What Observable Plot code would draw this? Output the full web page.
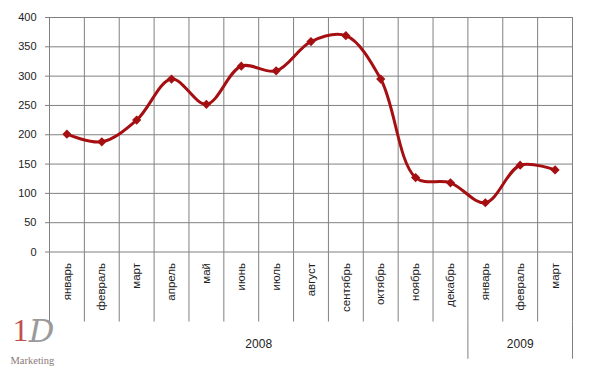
<!DOCTYPE html>
<html><head><meta charset="utf-8">
<script src="https://cdn.jsdelivr.net/npm/d3@7"></script>
<script src="https://cdn.jsdelivr.net/npm/@observablehq/plot@0.6"></script>
<style>body{margin:0;background:#fff;} svg{display:block;}</style>
</head><body><div id="chart"></div>
<script>
const months = ["январь","февраль","март","апрель","май","июнь","июль","август","сентябрь","октябрь","ноябрь","декабрь","январь","февраль","март"];
const values = [201,188,225,295,252,317,309,359,369,295,127,118,84,148,140];
const years = ["2008","2009"];
const yearSpans = [[0,11],[12,14]];
const yTicks = [0,50,100,150,200,250,300,350,400];

const data = months.map((m,i)=>({i, month:m, value:values[i]}));
const bounds = d3.range(months.length+1).map(k=>k-0.5);
const yearBounds = [yearSpans[0][0]-0.5, ...yearSpans.map(s=>s[1]+0.5)];
const yearData = years.map((y,k)=>({year:y, mid:(yearSpans[k][0]+yearSpans[k][1])/2}));

const grid = "#808080";
const red = "#A50F12";

const chart = Plot.plot({
  width: 589, height: 368,
  marginLeft: 49, marginRight: 17, marginTop: 17, marginBottom: 116.5,
  style: {fontFamily: "Liberation Sans, Arial, sans-serif", fontSize: "11px", color: "#222", background: "#fff"},
  x: {type: "linear", domain: [-0.5, months.length-0.5], axis: null},
  y: {domain: [0,400], axis: null},
  marks: [
    Plot.ruleY(yTicks, {x1: -0.5, x2: months.length-0.5, stroke: grid, strokeOpacity: 1}),
    Plot.axisY({ticks: yTicks, tickSize: 4, tickPadding: 9, stroke: grid, label: null, fill: "#222", fontSize: 11}),
    Plot.ruleX(bounds, {y1: 0, y2: 400, stroke: grid, strokeOpacity: 1}),
    Plot.ruleX(bounds, {y1: 0, y2: -119.5, stroke: grid, strokeOpacity: 1, clip: false}),
    Plot.ruleX(yearBounds.slice(1), {y1: -119.5, y2: -183, stroke: grid, strokeOpacity: 1, clip: false}),
    Plot.text(data, {x: "i", y: 0, text: "month", rotate: -90, textAnchor: "end", dy: 11, dx: 0, fill: "#222", fontSize: 11.5, clip: false}),
    Plot.text(yearData, {x: "mid", y: 0, text: "year", dy: 92.5, fill: "#222", fontSize: 12, clip: false}),
    Plot.line(data, {x: "i", y: "value", curve: "catmull-rom", stroke: red, strokeWidth: 3}),
    Plot.dot(data, {x: "i", y: "value", symbol: "diamond2", r: 3.2, fill: red, stroke: red}),
    // logo
    Plot.text(["D"], {x: -0.5, y: 0, dx: -8, dy: 80, text: d=>d, fontSize: 32, fontFamily: "DejaVu Serif, serif", fill: "#9a9a9a", fontStyle: "italic", clip: false}),
    Plot.text(["1"], {x: -0.5, y: 0, dx: -29, dy: 79, text: d=>d, fontSize: 32, fontFamily: "Liberation Serif, serif", fill: "#c0504d", clip: false}),
    Plot.text(["Marketing"], {x: -0.5, y: 0, dx: -39, dy: 109, text: d=>d, textAnchor: "start", fontSize: 10.5, fontFamily: "Liberation Serif, serif", fill: "#8c7878", clip: false})
  ]
});
document.getElementById("chart").appendChild(chart);
</script></body></html>
